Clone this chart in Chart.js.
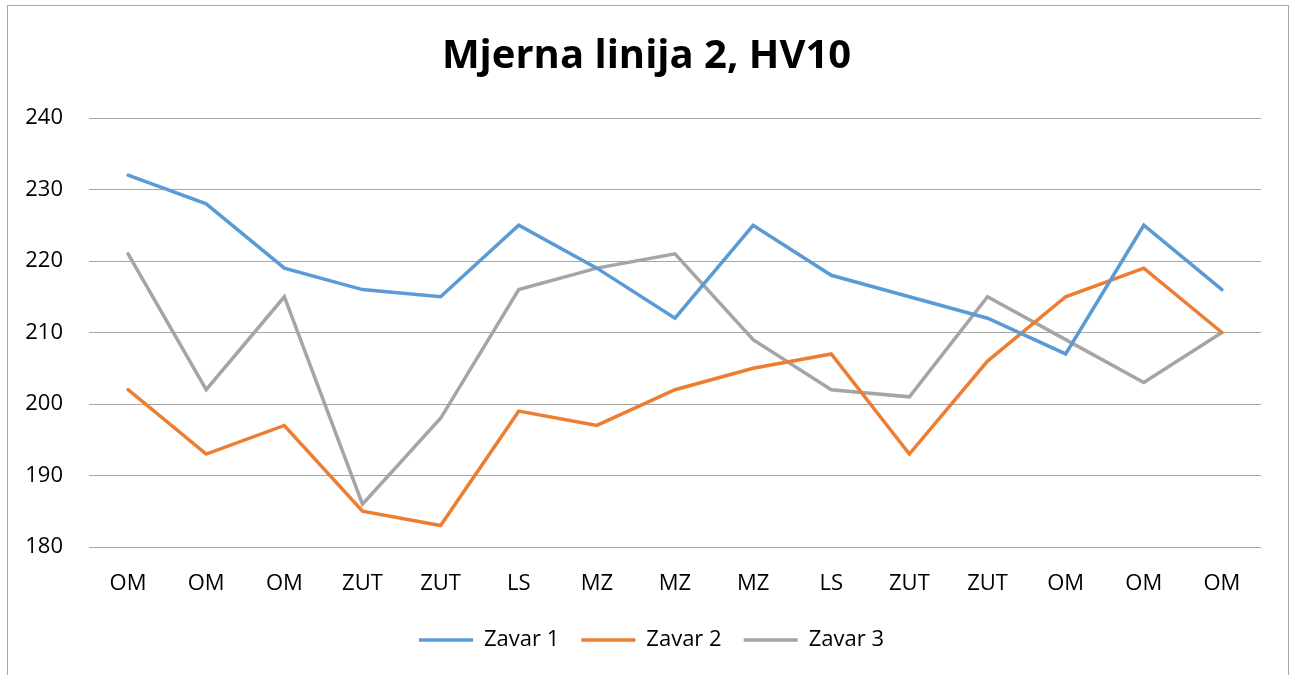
<!DOCTYPE html>
<html lang="hr">
<head>
  <meta charset="utf-8"/>
  <title>Mjerna linija 2, HV10</title>
  <script src="https://cdn.jsdelivr.net/npm/chart.js"></script>
  <style>
    html, body { margin: 0; padding: 0; background: #fff; }
    #wrap { position: relative; width: 1293px; height: 675px; }
  </style>
</head>
<body>
  <div id="wrap">
    <canvas id="hvChart" width="1293" height="675"></canvas>
  </div>

<script>
  // podaci s grafa
  const categories = ['OM', 'OM', 'OM', 'ZUT', 'ZUT', 'LS', 'MZ', 'MZ', 'MZ', 'LS', 'ZUT', 'ZUT', 'OM', 'OM', 'OM'];
  const zavar1 = [232, 228, 219, 216, 215, 225, 219, 212, 225, 218, 215, 212, 207, 225, 216];
  const zavar2 = [202, 193, 197, 185, 183, 199, 197, 202, 205, 207, 193, 206, 215, 219, 210];
  const zavar3 = [221, 202, 215, 186, 198, 216, 219, 221, 209, 202, 201, 215, 209, 203, 210];
  const yTicks = [180, 190, 200, 210, 220, 230, 240];

  const fontFamily = '"Open Sans", "DejaVu Sans", sans-serif';

  // okvir oko cijelog grafa (kao u Excelu) + centriranje naslova i legende
  const chartBorder = {
    id: 'chartBorder',
    beforeDraw(chart) {
      if (chart.titleBlock) { chart.titleBlock.left = 0; chart.titleBlock.right = chart.width; }
      if (chart.legend) { chart.legend.left = 42; }
      const c = chart.ctx;
      c.save();
      c.fillStyle = '#fff';
      c.fillRect(0, 0, chart.width, chart.height);
      c.strokeStyle = '#a6a6a6';
      c.lineWidth = 1;
      c.strokeRect(7.5, 5.5, 1281, 720);
      c.restore();
    }
  };

  const ctx = document.getElementById('hvChart').getContext('2d');
  new Chart(ctx, {
    type: 'line',
    data: {
      labels: categories,
      datasets: [
        { label: 'Zavar 1', data: zavar1, borderColor: '#5b9bd5', backgroundColor: '#5b9bd5', borderWidth: 3.5 },
        { label: 'Zavar 2', data: zavar2, borderColor: '#ed7d31', backgroundColor: '#ed7d31', borderWidth: 3.5 },
        { label: 'Zavar 3', data: zavar3, borderColor: '#a5a5a5', backgroundColor: '#a5a5a5', borderWidth: 3.5 }
      ]
    },
    options: {
      responsive: false,
      animation: false,
      elements: {
        line: { tension: 0, borderCapStyle: 'round', borderJoinStyle: 'miter' },
        point: { radius: 0, hoverRadius: 0 }
      },
      layout: { padding: { left: 0, right: 32, top: 0, bottom: 14 } },
      scales: {
        x: {
          offset: true,
          grid: { display: false, drawTicks: false },
          border: { display: false },
          ticks: { color: '#000', font: { family: fontFamily, size: 22 }, padding: 24, maxRotation: 0, autoSkip: false },
          afterFit(scale) { scale.height = 60; }
        },
        y: {
          min: 180,
          max: 240,
          afterBuildTicks(scale) { scale.ticks = yTicks.map(v => ({ value: v })); },
          grid: { color: '#a6a6a6', lineWidth: 1, drawTicks: false },
          border: { display: false },
          ticks: { color: '#000', font: { family: fontFamily, size: 22 }, padding: 26 },
          afterFit(scale) { scale.width = 89; }
        }
      },
      plugins: {
        title: {
          display: true,
          text: 'Mjerna linija 2, HV10',
          color: '#000',
          font: { family: fontFamily, size: 40, weight: 'bold' },
          padding: { top: 33, bottom: 37 }
        },
        legend: {
          position: 'bottom',
          labels: {
            color: '#000',
            font: { family: fontFamily, size: 22 },
            usePointStyle: true,
            pointStyle: 'line',
            pointStyleWidth: 54,
            boxHeight: 22,
            padding: 22
          }
        },
        tooltip: { enabled: false }
      }
    },
    plugins: [chartBorder]
  });
</script>
</body>
</html>
